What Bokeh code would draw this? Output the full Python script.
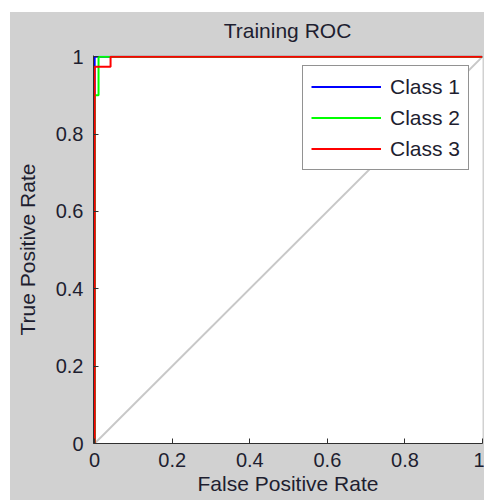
from bokeh.plotting import figure
from bokeh.models import Legend, LegendItem, FixedTicker, Range1d, Spacer, Div
from bokeh.layouts import column, row
from bokeh.embed import file_html
from bokeh.resources import INLINE

# ---- data ----
class1_fpr = [0.0, 0.0, 1.0]
class1_tpr = [0.0, 1.0, 1.0]
class2_fpr = [0.0, 0.0, 0.010, 0.010, 1.0]
class2_tpr = [0.0, 0.90, 0.90, 1.0, 1.0]
class3_fpr = [0.0, 0.0, 0.041, 0.041, 1.0]
class3_tpr = [0.0, 0.974, 0.974, 1.0, 1.0]
chance_x = [0.0, 1.0]
chance_y = [0.0, 1.0]
class_names = ["Class 1", "Class 2", "Class 3"]
tick_values = [0, 0.2, 0.4, 0.6, 0.8, 1]
tick_labels = ["0", "0.2", "0.4", "0.6", "0.8", "1"]
title_text = "Training ROC"

FONT = "Liberation Sans"
TXT = "#1e1e30"
BG = "#d1d1d1"

p = figure(width=474, height=458, output_backend="svg", toolbar_location=None,
           x_range=Range1d(-0.003, 1.0), y_range=Range1d(0.0, 1.003),
           min_border_left=83, min_border_right=2, min_border_top=13, min_border_bottom=57)
p.border_fill_color = BG
p.background_fill_color = "white"
p.outline_line_color = None
p.grid.visible = False

for ax in (p.xaxis[0], p.yaxis[0]):
    ax.ticker = FixedTicker(ticks=tick_values)
    ax.major_label_overrides = {v: l for v, l in zip(tick_values, tick_labels)}
    ax.major_label_text_font = FONT
    ax.major_label_text_font_size = "20px"
    ax.major_label_text_color = TXT
    ax.axis_label_text_font = FONT
    ax.axis_label_text_font_size = "21px"
    ax.axis_label_text_font_style = "normal"
    ax.axis_label_text_color = TXT
    ax.axis_line_color = "#303030"
    ax.major_tick_line_color = "#303030"
    ax.major_tick_in = 5
    ax.major_tick_out = 0
    ax.minor_tick_line_color = None

p.xaxis.axis_label = "False Positive Rate"
p.yaxis.axis_label = "True Positive Rate"
p.xaxis.major_label_standoff = 9
p.xaxis.axis_label_standoff = 2
p.yaxis.major_label_standoff = 10
p.yaxis.axis_label_standoff = 14

p.line(chance_x, chance_y, line_color="#c8c8c8", line_width=2)
r1 = p.line(class1_fpr, class1_tpr, line_color="#0000ff", line_width=2)
r2 = p.line(class2_fpr, class2_tpr, line_color="#00ff00", line_width=2)
r3 = p.line(class3_fpr, class3_tpr, line_color="#ff0000", line_width=2)

legend = Legend(items=[LegendItem(label=n, renderers=[r]) for n, r in zip(class_names, [r1, r2, r3])],
                location=(209, 273), margin=0)
legend.padding = 8
legend.spacing = 6
legend.glyph_width = 70
legend.glyph_height = 25
legend.label_height = 25
legend.label_standoff = 9
legend.label_text_font = FONT
legend.label_text_font_size = "21px"
legend.label_text_color = TXT
legend.border_line_color = "#262626"
legend.border_line_width = 1
legend.background_fill_color = "white"
legend.background_fill_alpha = 1.0
p.add_layout(legend, "center")

title_div = Div(
    text=(f'<div style="width:389px;margin-left:83px;text-align:center;'
          f"font-family:'{FONT}';font-size:21px;line-height:21px;padding-top:8px;"
          f'color:{TXT};">{title_text}</div>'),
    width=474, height=30, margin=0,
    styles={"background-color": BG, "overflow": "hidden"})

inner = column(title_div, p, styles={"background-color": BG})
layout = column(Spacer(width=484, height=12),
                row(Spacer(width=10, height=488), inner))
open("out.html", "w").write(file_html(layout, INLINE))
